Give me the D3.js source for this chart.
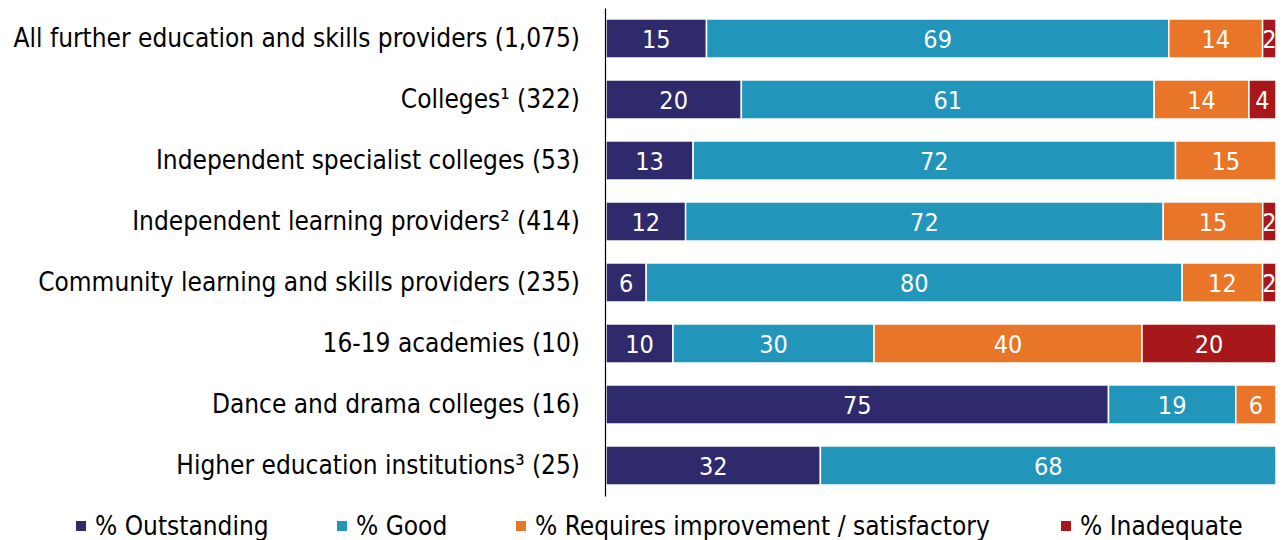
<!DOCTYPE html>
<html>
<head>
<meta charset="utf-8">
<script src="https://cdn.jsdelivr.net/npm/d3@7"></script>
<style>
  body { margin: 0; background: #fff; }
  text { font-family: "DejaVu Sans Condensed", "DejaVu Sans", sans-serif; }
</style>
</head>
<body>
<div id="chart"></div>
<script>
// provider types (number of providers)
var categories = [
  "All further education and skills providers (1,075)",
  "Colleges\u00b9 (322)",
  "Independent specialist colleges (53)",
  "Independent learning providers\u00b2 (414)",
  "Community learning and skills providers (235)",
  "16-19 academies (10)",
  "Dance and drama colleges (16)",
  "Higher education institutions\u00b3 (25)"
];
var outstanding = [15, 20, 13, 12, 6, 10, 75, 32];
var good        = [69, 61, 72, 72, 80, 30, 19, 68];
var requiresImp = [14, 14, 15, 15, 12, 40, 6, 0];
var inadequate  = [2, 4, 0, 2, 2, 20, 0, 0];

var seriesNames = ["% Outstanding", "% Good", "% Requires improvement / satisfactory", "% Inadequate"];
var colours = ["#2e2a6c", "#2196ba", "#e87528", "#a8171a"];

var width = 1283, height = 540;

var keys = ["outstanding", "good", "requires", "inadequate"];
var rows = categories.map(function(c, i) {
  return { cat: c, outstanding: outstanding[i], good: good[i], requires: requiresImp[i], inadequate: inadequate[i] };
});

// each row is shown as shares of 100%
var stack = d3.stack().keys(keys).offset(d3.stackOffsetExpand);
var layers = stack(rows);

var svg = d3.select("#chart").append("svg")
  .attr("width", width)
  .attr("height", height);

var x = d3.scaleLinear().domain([0, 1]).range([606, 1276]);
var y = d3.scaleBand().domain(categories).range([8, 496]).paddingInner(0.36).paddingOuter(0.18);

var layer = svg.selectAll("g.layer")
  .data(layers)
  .enter().append("g")
  .attr("class", "layer")
  .attr("fill", function(d, i) { return colours[i]; });

layer.selectAll("rect")
  .data(function(d) { return d; })
  .enter().append("rect")
  .attr("x", function(d) { return x(d[0]); })
  .attr("y", function(d) { return y(d.data.cat); })
  .attr("width", function(d) { return Math.max(0, x(d[1]) - x(d[0])); })
  .attr("height", y.bandwidth())
  .attr("stroke", "#fff")
  .attr("stroke-width", 1.5);

// value labels
layer.selectAll("text")
  .data(function(d) { return d.filter(function(p) { return p.data[d.key] > 0; }).map(function(p) { p.key = d.key; return p; }); })
  .enter().append("text")
  .attr("x", function(d) { return (x(d[0]) + x(d[1])) / 2; })
  .attr("y", function(d) { return y(d.data.cat) + y.bandwidth() / 2; })
  .attr("dy", "0.36em")
  .attr("text-anchor", "middle")
  .attr("fill", "#fff")
  .style("font-size", "25px")
  .text(function(d) { return d.data[d.key]; });

// category axis
var axis = svg.append("g")
  .attr("transform", "translate(605,0)")
  .call(d3.axisLeft(y).tickSize(0).tickSizeOuter(0).tickPadding(25));
axis.select(".domain").attr("stroke", "#000").attr("stroke-width", 1.2);
axis.selectAll(".tick text")
  .attr("fill", "#000")
  .style("font-size", "26px")
  .style("font-family", "'DejaVu Sans Condensed', sans-serif");

// legend
var legendX = [76, 337, 516, 1061];
var legend = svg.append("g").selectAll("g")
  .data(seriesNames)
  .enter().append("g")
  .attr("transform", function(d, i) { return "translate(" + legendX[i] + ",521)"; });
legend.append("rect")
  .attr("width", 10).attr("height", 10)
  .attr("fill", function(d, i) { return colours[i]; });
legend.append("text")
  .attr("x", 19)
  .attr("y", 14)
  .attr("fill", "#000")
  .style("font-size", "26px")
  .text(function(d) { return d; });
</script>
</body>
</html>
